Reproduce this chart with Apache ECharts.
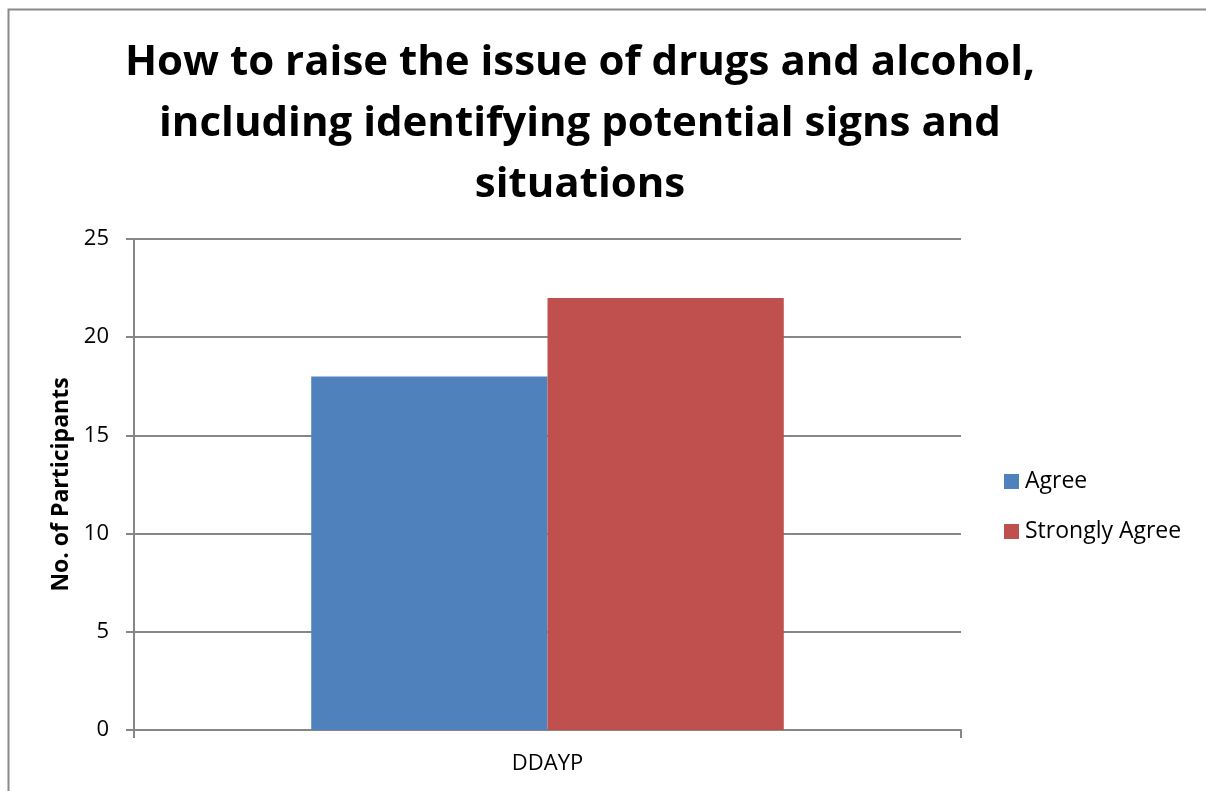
<!DOCTYPE html>
<html>
<head>
<meta charset="utf-8">
<style>
  html, body { margin: 0; padding: 0; background: #fff; }
  #chart { width: 1206px; height: 791px; }
</style>
<script src="https://cdn.jsdelivr.net/npm/echarts@6/dist/echarts.min.js"></script>
</head>
<body>
<div id="chart"></div>
<script>
// Survey responses
const categories = ['DDAYP'];
const seriesNames = ['Agree', 'Strongly Agree'];
const agreeValues = [18];
const stronglyAgreeValues = [22];
const yTicks = [0, 5, 10, 15, 20, 25];

const FONT = '"Open Sans", Lato, sans-serif';
const AXIS_GREY = '#868686';

const chart = echarts.init(document.getElementById('chart'), null, { renderer: 'canvas' });

chart.setOption({
  backgroundColor: '#ffffff',
  animation: false,
  title: {
    text: 'How to raise the issue of drugs and alcohol,\nincluding identifying potential signs and\nsituations',
    left: 575,
    top: 28,
    textAlign: 'center',
    textStyle: {
      fontFamily: FONT,
      fontWeight: 'bold',
      fontSize: 42,
      lineHeight: 61,
      color: '#000'
    }
  },
  graphic: [{
    type: 'rect',
    shape: { x: 8.5, y: 9.5, width: 1300, height: 900 },
    style: { fill: 'none', stroke: '#8a8a8a', lineWidth: 2 },
    silent: true,
    z: -1
  }],
  legend: {
    orient: 'vertical',
    left: 1004,
    top: 470,
    padding: 0,
    itemWidth: 15,
    itemHeight: 15,
    itemGap: 27,
    icon: 'rect',
    data: seriesNames,
    textStyle: { fontFamily: FONT, fontSize: 23, color: '#000', padding: [0, 0, 0, 1] }
  },
  grid: { left: 134, right: 245, top: 239, bottom: 61 },
  xAxis: {
    type: 'category',
    data: categories,
    axisLine: { lineStyle: { color: AXIS_GREY, width: 2 } },
    axisTick: { show: true, alignWithLabel: false, length: 8, lineStyle: { color: AXIS_GREY, width: 2 } },
    axisLabel: { fontFamily: FONT, fontSize: 22, color: '#000', margin: 23 }
  },
  yAxis: {
    type: 'value',
    min: yTicks[0],
    max: yTicks[yTicks.length - 1],
    interval: yTicks[1] - yTicks[0],
    name: 'No. of Participants',
    nameLocation: 'middle',
    nameGap: 56,
    nameTextStyle: { fontFamily: FONT, fontSize: 23, fontWeight: 'bold', color: '#000' },
    axisLine: { show: true, lineStyle: { color: AXIS_GREY, width: 2 } },
    axisTick: { show: true, length: 8, lineStyle: { color: AXIS_GREY, width: 2 } },
    axisLabel: { fontFamily: FONT, fontSize: 22, color: '#000', margin: 25 },
    splitLine: { lineStyle: { color: AXIS_GREY, width: 2 } }
  },
  series: [
    {
      name: seriesNames[0],
      type: 'bar',
      data: agreeValues,
      itemStyle: { color: '#4f81bd' },
      barGap: '0%',
      barCategoryGap: '42.86%'
    },
    {
      name: seriesNames[1],
      type: 'bar',
      data: stronglyAgreeValues,
      itemStyle: { color: '#c0504d' },
      barGap: '0%',
      barCategoryGap: '42.86%'
    }
  ]
});
</script>
</body>
</html>
